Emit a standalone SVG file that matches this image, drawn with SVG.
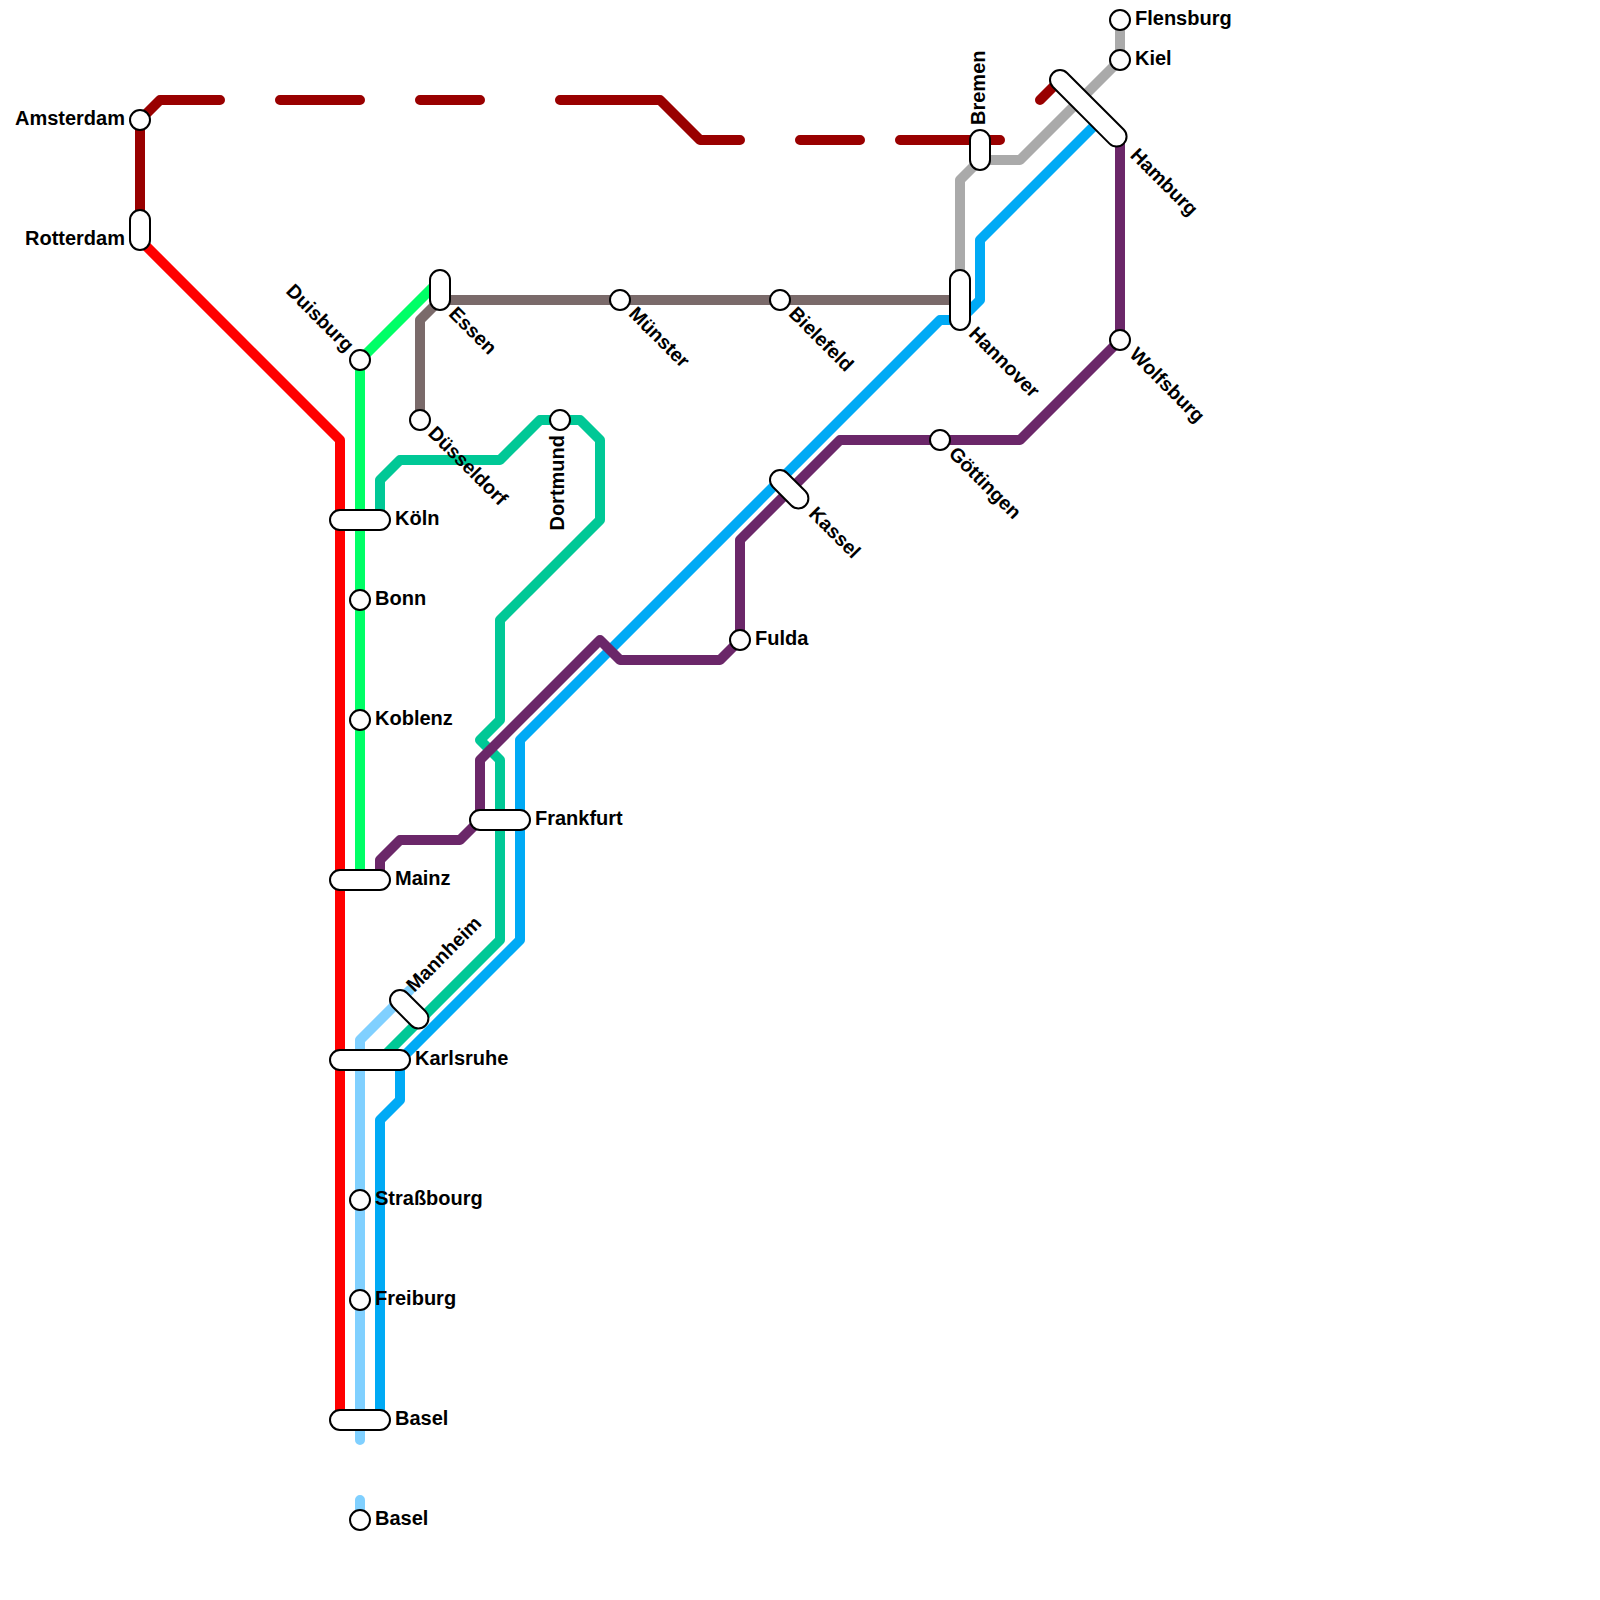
<svg xmlns="http://www.w3.org/2000/svg" width="1600" height="1600" viewBox="0 0 1600 1600">
<style>
.l{fill:none;stroke-width:10;stroke-linecap:round;stroke-linejoin:round}
.s{fill:#fff;stroke:#000;stroke-width:2}
text{font-family:"Liberation Sans",Arial,sans-serif;font-weight:bold;font-size:20px;fill:#000}
.e{text-anchor:end}
.r{font-size:19.6px}
</style>
<rect width="1600" height="1600" fill="#fff"/>
<g id="connectors">
<path class="l" stroke="#ff0000" d="M140 240L340 440V1420"/>
<path class="l" stroke="#990000" d="M140 230V120L160 100H220M280 100H360M420 100H480M560 100H660L700 140H740M800 140H860M900 140H1000M1040 100L1060 80"/>
<path class="l" stroke="#00ff66" d="M440 280L360 360V880"/>
<path class="l" stroke="#00c896" d="M380 520V480L400 460H500L540 420H580L600 440V520L500 620V720L480 740L500 760V940L380 1060"/>
<path class="l" stroke="#7a6a6a" d="M420 420V320L440 300H960"/>
<path class="l" stroke="#aaaaaa" d="M960 280V180L980 160H1020L1120 60V20"/>
<path class="l" stroke="#80d0ff" d="M410 990L360 1040V1440M360 1500V1520"/>
<path class="l" stroke="#00aaf5" d="M380 1420V1120L400 1100V1060L520 940V740L940 320H960L980 300V240L1100 120"/>
<path class="l" stroke="#6b2769" d="M380 880V860L400 840H460L480 820V760L600 640L620 660H720L740 640V540L840 440H1020L1120 340V140"/>
</g>
<g id="amsterdam"><circle class="s" cx="140" cy="120" r="10"/><text class="e" x="125" y="125">Amsterdam</text></g>
<g id="rotterdam"><rect class="s" x="130" y="210" width="20" height="40" rx="10"/><text class="e" x="125" y="245">Rotterdam</text></g>
<g id="duisburg"><circle class="s" cx="360" cy="360" r="10"/><text class="e r" transform="translate(360 360) rotate(45)" x="-15" y="5">Duisburg</text></g>
<g id="essen"><rect class="s" x="430" y="270" width="20" height="40" rx="10"/><text class="r" transform="translate(440 300) rotate(45)" x="16" y="5">Essen</text></g>
<g id="duesseldorf"><circle class="s" cx="420" cy="420" r="10"/><text class="r" transform="translate(420 420) rotate(45)" x="15" y="5">Düsseldorf</text></g>
<g id="dortmund"><circle class="s" cx="560" cy="420" r="10"/><text class="e" transform="translate(560 420) rotate(-90)" x="-15" y="4">Dortmund</text></g>
<g id="muenster"><circle class="s" cx="620" cy="300" r="10"/><text class="r" transform="translate(620 300) rotate(45)" x="16" y="5">Münster</text></g>
<g id="bielefeld"><circle class="s" cx="780" cy="300" r="10"/><text class="r" transform="translate(780 300) rotate(45)" x="16" y="5">Bielefeld</text></g>
<g id="hannover"><rect class="s" x="950" y="270" width="20" height="60" rx="10"/><text class="r" transform="translate(960 320) rotate(45)" x="16" y="5">Hannover</text></g>
<g id="bremen"><rect class="s" x="970" y="130" width="20" height="40" rx="10"/><text transform="translate(980 125) rotate(-90)" x="0" y="5">Bremen</text></g>
<g id="hamburg"><rect class="s" x="1050" y="70" width="100" height="20" rx="10" transform="rotate(45 1060 80)"/><text class="r" transform="translate(1120 140) rotate(45)" x="18" y="5">Hamburg</text></g>
<g id="kiel"><circle class="s" cx="1120" cy="60" r="10"/><text x="1135" y="65">Kiel</text></g>
<g id="flensburg"><circle class="s" cx="1120" cy="20" r="10"/><text x="1135" y="25">Flensburg</text></g>
<g id="wolfsburg"><circle class="s" cx="1120" cy="340" r="10"/><text class="r" transform="translate(1120 340) rotate(45)" x="17" y="5">Wolfsburg</text></g>
<g id="goettingen"><circle class="s" cx="940" cy="440" r="10"/><text class="r" transform="translate(940 440) rotate(45)" x="16" y="5">Göttingen</text></g>
<g id="kassel"><rect class="s" x="770" y="470" width="46" height="20" rx="10" transform="rotate(45 780 480)"/><text class="r" transform="translate(800 500) rotate(45)" x="16" y="5">Kassel</text></g>
<g id="fulda"><circle class="s" cx="740" cy="640" r="10"/><text x="755" y="645">Fulda</text></g>
<g id="frankfurt"><rect class="s" x="470" y="810" width="60" height="20" rx="10"/><text x="535" y="825">Frankfurt</text></g>
<g id="koeln"><rect class="s" x="330" y="510" width="60" height="20" rx="10"/><text x="395" y="525">Köln</text></g>
<g id="bonn"><circle class="s" cx="360" cy="600" r="10"/><text x="375" y="605">Bonn</text></g>
<g id="koblenz"><circle class="s" cx="360" cy="720" r="10"/><text x="375" y="725">Koblenz</text></g>
<g id="mainz"><rect class="s" x="330" y="870" width="60" height="20" rx="10"/><text x="395" y="885">Mainz</text></g>
<g id="mannheim"><rect class="s" x="390" y="990" width="46" height="20" rx="10" transform="rotate(45 400 1000)"/><text class="r" transform="translate(400 1000) rotate(-45)" x="15" y="5">Mannheim</text></g>
<g id="karlsruhe"><rect class="s" x="330" y="1050" width="80" height="20" rx="10"/><text x="415" y="1065">Karlsruhe</text></g>
<g id="strassbourg"><circle class="s" cx="360" cy="1200" r="10"/><text x="375" y="1205">Straßbourg</text></g>
<g id="freiburg"><circle class="s" cx="360" cy="1300" r="10"/><text x="375" y="1305">Freiburg</text></g>
<g id="basel-1"><rect class="s" x="330" y="1410" width="60" height="20" rx="10"/><text x="395" y="1425">Basel</text></g>
<g id="basel-2"><circle class="s" cx="360" cy="1520" r="10"/><text x="375" y="1525">Basel</text></g>
</svg>
